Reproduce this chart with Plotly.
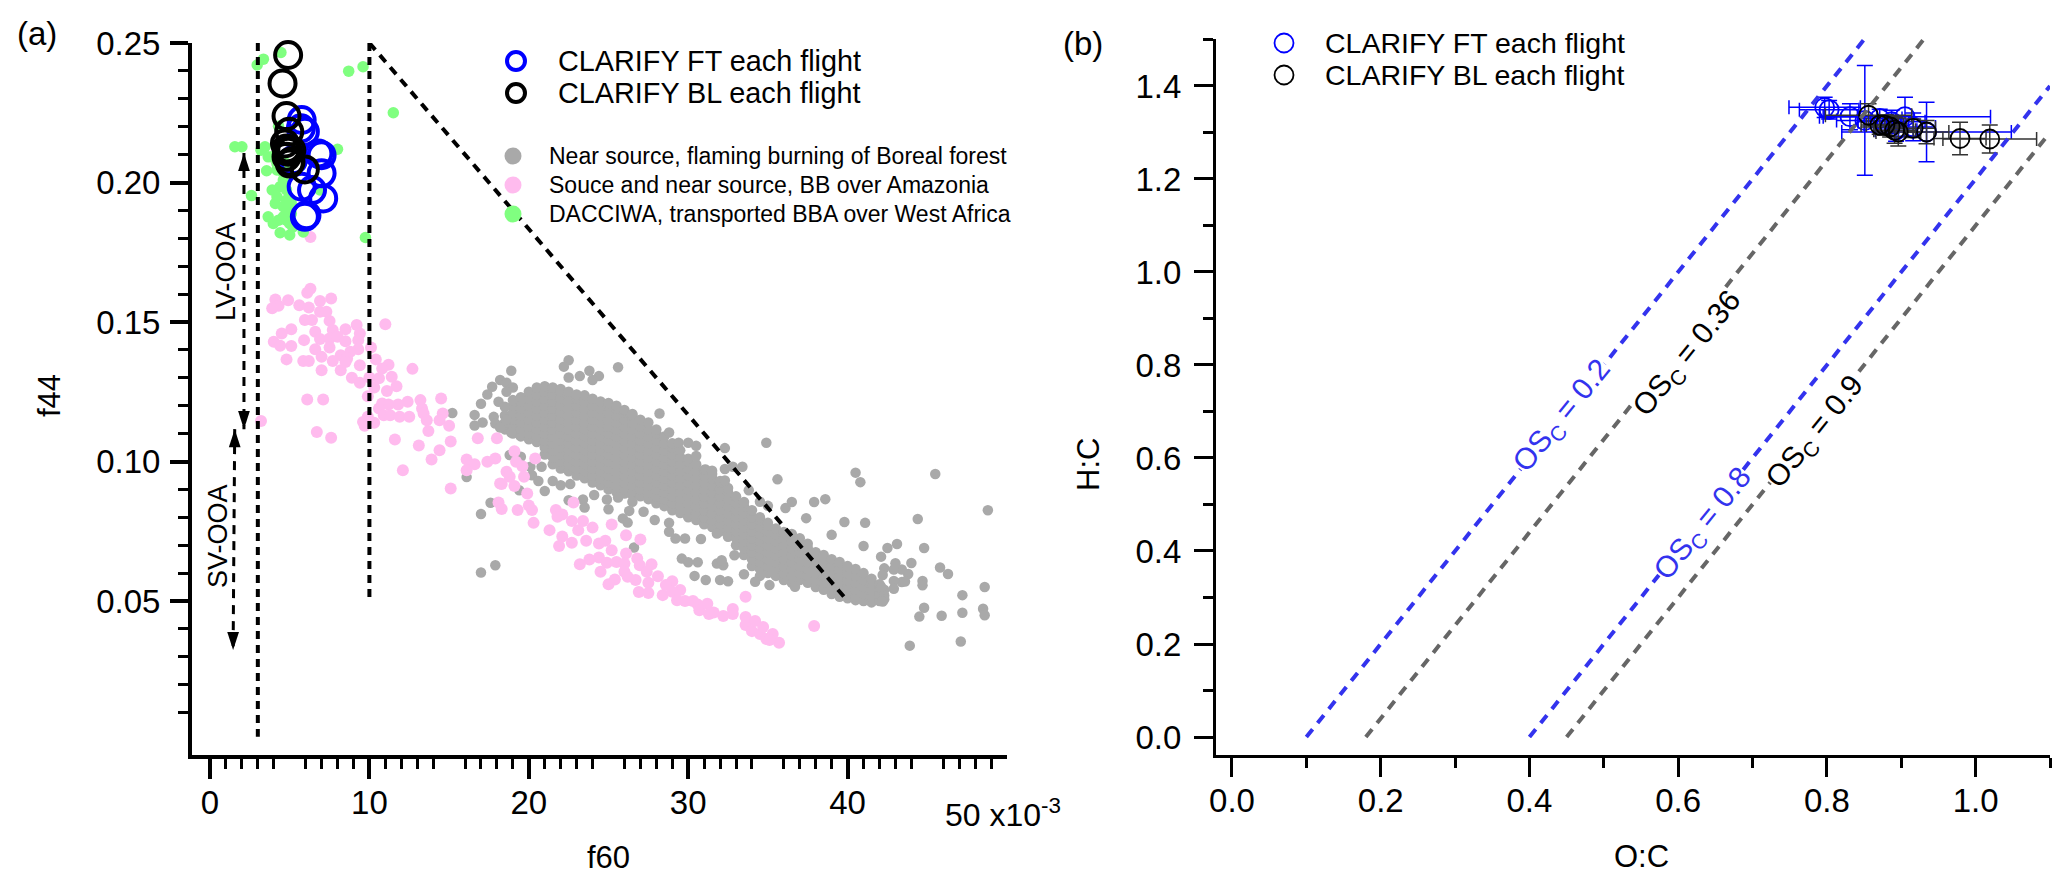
import plotly.graph_objects as go

W, H = 2067, 886
def fx(p): return p / W
def fy(p): return 1 - p / H

# ---------- panel (a): values; f60 in 1e-3 units, f44 in 1e-3 units ----------
gray_core_columns = [
 (18.5,[111.5,114,116.5]),
 (19,[110,112.5,115,117.5,120,122]),
 (19.5,[109,111.5,114,116.5,119,121.5,123]),
 (20,[108,110,112.5,115,117.5,120,122.5,125]),
 (20.5,[107,109,111.5,114,116.5,119,121.5,124,126.5]),
 (21,[102.5,105,107.5,110,112.5,115,117.5,120,122.5,125,127]),
 (21.5,[99,101.5,104,106.5,109,111.5,114,116.5,119,121.5,124,126.5]),
 (22,[97.5,100,102.5,105,107.5,110,112.5,115,117.5,120,122.5,125,126]),
 (22.5,[96.5,99,101.5,104,106.5,109,111.5,114,116.5,119,121.5,124,125]),
 (23,[95,97.5,100,102.5,105,107.5,110,112.5,115,117.5,120,122.5,124]),
 (23.5,[94,96.5,99,101.5,104,106.5,109,111.5,114,116.5,119,121.5,123.7]),
 (24,[92.5,95,97.5,100,102.5,105,107.5,110,112.5,115,117.5,120,122.5]),
 (24.5,[91.5,94,96.5,99,101.5,104,106.5,109,111.5,114,116.5,119,121.5]),
 (25,[90,92.5,95,97.5,100,102.5,105,107.5,110,112.5,115,117.5,120,121]),
 (25.5,[89,91.5,94,96.5,99,101.5,104,106.5,109,111.5,114,116.5,119,120]),
 (26,[88.5,90,92.5,95,97.5,100,102.5,105,107.5,110,112.5,115,117.5,118.5]),
 (26.5,[88,89,91.5,94,96.5,99,101.5,104,106.5,109,111.5,114,116.5,117]),
 (27,[87.5,90,92.5,95,97.5,100,102.5,105,107.5,110,112.5,115]),
 (27.5,[86.5,89,91.5,94,96.5,99,101.5,104,106.5,109,111.5,114]),
 (28,[85,87.5,90,92.5,95,97.5,100,102.5,105,107.5,110,111.5]),
 (28.5,[84,86.5,89,91.5,94,96.5,99,101.5,104,106.5,109]),
 (29,[82.5,85,87.5,90,92.5,95,97.5,100,102.5,105,106.5]),
 (29.5,[81.5,84,86.5,89,91.5,94,96.5,99,101.5,104]),
 (30,[80,82.5,85,87.5,90,92.5,95,97.5,100,101]),
 (30.5,[79,81.5,84,86.5,89,91.5,94,96.5,99]),
 (31,[77.5,80,82.5,85,87.5,90,92.5,95,97]),
 (31.5,[76.5,79,81.5,84,86.5,89,91.5,94,95.5]),
 (32,[75,77.5,80,82.5,85,87.5,90,92.5,93]),
 (32.5,[73,74,76.5,79,81.5,84,86.5,89,90.5]),
 (33,[70,72.5,75,77.5,80,82.5,85,87.5]),
 (33.5,[66.5,69,71.5,74,76.5,79,81.5,84,85.5]),
 (34,[62.5,65,67.5,70,72.5,75,77.5,80,82.5]),
 (34.5,[59,61.5,64,66.5,69,71.5,74,76.5,79,80]),
 (35,[60,62.5,65,67.5,70,72.5,75,77,78]),
 (35.5,[59,61.5,64,66.5,69,71.5,74,76]),
 (36,[57.5,60,62.5,65,67.5,70,72.5,74.7]),
 (36.5,[56.5,59,61.5,64,66.5,69,71.5,74]),
 (37,[57.5,60,62.5,65,67.5,70,72.5]),
 (37.5,[56.5,59,61.5,64,66.5,69,70.5]),
 (38,[55,57.5,60,62.5,65,67.5]),
 (38.5,[54,56.5,59,61.5,64,66.5]),
 (39,[52.5,55,57.5,60,62.5,65]),
 (39.5,[51.5,54,56.5,59,61.5,64]),
 (40,[51,52.5,55,57.5,60,62.5]),
 (40.5,[50.3,51.5,54,56.5,59,61.5]),
 (41,[50,52.5,55,57.5,60]),
 (41.5,[49.5,51.5,54,56.5,58]),
 (42,[50,52.5,55,56]),
 (42.3,[52,54]),
]
gray_outliers = [
 (22.5,136.3),(22.2,134),(25.6,133.8),(18.9,132.5),(23.8,132.5),(24.4,130.6),(24.0,129.2),(23.2,130.6),
 (22.5,130.1),(18.2,129.2),(18.6,128.2),(17.7,126.8),(19.0,126.5),(18.6,125),(17.4,124),(18.1,121.4),
 (17.0,120.7),(18.5,119.6),(15.2,117.4),(16.6,116.7),(17.8,116),(17.1,114),(16.6,112.9),(17.9,113.6),
 (18.2,112.2),(18.6,115),(18.9,110.4),(28.2,117.2),(28.8,110.4),(29.4,106.7),(30,106.7),(30.5,105.6),
 (30.5,102),(32.3,104.8),(34.9,106.7),(31.1,97.1),(31.5,96.7),(33.4,98.1),(32.8,98.1),(32.3,97.3),
 (35.6,93.6),(32.3,93.2),(33.8,89.7),(36.1,83.3),(35,84.1),(34.5,85.6),(18.8,102.3),(19.5,101.7),
 (20.1,98.1),(20.8,98.1),(20.2,95.1),(20.6,93),(21.5,93),(22,91.5),(22.6,91.9),(19.4,89.7),(21,89.4),
 (22.5,86.1),(23.4,86.4),(23.5,83.5),(24.1,88),(24.9,86.4),(25.6,87.1),(25,82.9),(26.5,85.6),(26.3,82.3),
 (25.9,79.6),(26.2,78.1),(27.2,82),(27.9,79),(28.8,78),(28.8,74.8),(29.2,72.4),(29.8,72.4),(30.8,72.2),
 (31.8,74.2),(32.9,66.4),(26.6,69.2),(17.6,85.2),(17,81.2),(16.1,94.4),(29.6,65.2),(30,63.9),(30.6,63.9),
 (31.8,63.4),(32.2,62.8),(32.1,64.6),(30.4,59),(31.1,57.5),(32,57.5),(32.5,57.1),(33.5,59.6),(34.2,56.9),
 (35.1,55.7),(36.7,55.1),(17.9,62.8),(17,60.2),
 (48.8,82.5),(46.3,59.7),(48.6,55),(47.2,52.1),(44.8,47.6),(48.5,47.2),(48.6,44.9),(47.2,45.8),(45.9,44.7),
 (44.5,44.4),(47.1,35.5),(43.9,34),(44.7,57.2),(44.7,55.6),(43.8,59.7),(43.4,61.3),(43,63.5),(42.3,61.7),
 (42.9,61.3),(43.4,56.8),(42.9,57.2),(42.9,54.4),(42.1,65.9),(42.1,55.1),(42.3,50.6),(42.2,59.3),(42.2,49.8),
 (45.5,95.5),(40.5,96),(40.8,92.6),(38.6,86.5),(41.1,78),(44.4,79.4),(45.8,62),(44,63.6),(43.6,57),
 (37.4,79.7),(36.5,85.5),(37.9,85.5),(39.8,78.3),(39,73.7),(41,69.7),(42.5,69),(43.1,70.4),(44.8,69),
]
pink_points = [
 (6.3,161.9),(6.1,160.5),(4.1,158.1),(4.9,157.8),(7.6,158.4),(6.9,157.5),(5.6,156),(6.2,155.2),(4.3,155.8),
 (3.9,154.9),(6.9,153.7),(7.3,153.7),(5.95,150.7),(6.4,150.7),(7.5,150.4),(9.2,148.9),(11,149.2),(5.1,147.4),
 (8.5,147.4),(4.5,145.9),(6.6,146.5),(7.7,147.1),(9.4,145.9),(9.3,143.5),(4,142.9),(5.9,143.5),(6.9,143.9),
 (7.5,144.1),(8,144.7),(8.5,143.1),(4.4,141.5),(5.1,141.4),(6.6,140.2),(7.5,140.9),(9.3,140.2),(10.1,140.9),
 (8.8,139.3),(8.2,138.1),(7,137.5),(4.8,136.6),(5.85,136),(6.2,136),(7.7,136),(8.6,136.9),(10.4,136.6),
 (9.4,134.5),(11.2,134.7),(10.8,133.3),(12.7,133.2),(7,132.7),(8.2,132.7),(8.5,135.7),(11.4,130.4),(8.9,130),
 (10,130.1),(10.6,129.8),(9.4,128.2),(10.3,126.5),(11.7,127),(11.1,125.3),(9.9,123.4),(6.1,122.2),(7.1,122.2),
 (14.5,122.6),(13.2,122),(12.4,121.4),(11.8,120.4),(10.8,120.8),(11.2,120.4),(13.3,119),(10.6,119),(10.9,116.6),
 (11.3,116.6),(11.9,116),(12.5,116),(9.9,116),(14.6,117.2),(13.4,117.2),(13.6,114.8),(14.4,114.8),(9.6,114.2),
 (10.3,113.9),(3.2,114.5),(9.7,112.8),(15,112.8),(13.7,110.9),(6.7,110.6),(7.6,108.5),(11.6,107.9),(15.1,107.2),
 (13.1,105.7),(16.8,108.3),(18,108.3),(14.4,104),(13.9,100.7),(12.1,96.9),(16.1,100.7),(16.6,99),(16.1,96.9),
 (17.4,99.9),(17.9,101.1),(15.1,90.3),(18.2,92.1),(6.3,180.5),
 (19.1,103.7),(20.4,101.1),(19.2,99.9),(19.6,98.3),(18.6,96.3),(18.8,94.5),(19.7,94.5),(18.3,91.9),(19.1,91.2),
 (19.9,88.5),(22.8,85.3),(18.1,85.3),(18.3,83),(20,84.2),(20.2,82.6),(19.3,82.6),(21.7,82.6),(22.1,81),(21.8,80.2),
 (20.3,78),(22.7,78.7),(23.4,78.7),(23.1,75.4),(24,76.3),(25.2,77.4),(21.3,75.4),(22.1,73.1),(26.1,73.6),(27,72),
 (23.6,71.6),(22.7,70.9),(21.9,69.7),(24.4,70.6),(24.8,71.6),(25.2,68.2),(26.1,67),(24.4,65.6),(23.8,64.9),
 (23.2,63.2),(24.9,63.7),(25.5,64),(26,63.4),(26.8,65.2),(27.7,63.2),(26.96,62.8),(26,60.5),(24.5,60.5),(27.4,60.5),
 (26.2,58.7),(26.7,57.5),(25.4,57.7),(25,56),(28.1,58.9),(27.5,56.5),(29,57.1),(28.6,55.7),(29.5,53.9),(26.9,53.2),
 (27.5,52.9),(28.4,52.1),(29,53.3),(29.3,50.3),(29.8,50),(33.6,51.5),(30.6,48.7),(32.8,47.1),(31.6,45.9),(30.7,46.7),
 (31.2,49),(32.8,45.3),(33.6,41.4),(34,39.2),(34.5,38.2),(34.9,36.4),(35.3,38.2),(35.7,35),(33.6,44.3),(34.2,42.8),
 (34.7,40.7),(35.1,36),(37.9,41),(31.3,45.3),(32.2,44.6),(30.3,50),
]
green_points = [
 (4.45,246.6),(3.35,244.2),(2.96,242.1),(8.7,239.9),(9.6,241.5),(11.5,225),(4.3,220.2),(1.56,212.8),(2,212.8),
 (8,211.9),(3.45,212.8),(3.2,211.6),(3.9,209.2),(3.55,204.2),(4.2,204.5),(3.9,197.3),(4.4,198.5),(2.6,195.3),
 (4.2,194.9),(4.8,197.3),(4.1,192.5),(4.6,191.3),(5.1,188.9),(3.65,187.7),(4.3,186.5),(4.8,186.5),(3.97,185.3),
 (5.2,184.1),(4.4,182),(5,181.2),(5.85,182.3),(9.75,180.3),(6.9,197.3),(4.8,193.7),(5.1,192.5),(4.6,187.7),
 (5,185.3),(3.65,209.2),(4.2,206.8),(4.6,203.3),(4.8,206.8),(4.6,200.9),(4.8,190.1),
]
ft_f60 = [5.75,5.95,6.8,7,7,7.1,6.4,5.75,6.05,5.95,5,5.2,5.7]
ft_f44 = [222.4,218.2,210.4,209.8,203.3,194.3,197.3,198.5,188.3,187.7,211.6,208,219.4]
bl_f60 = [4.9,4.55,4.8,4.97,4.7,4.8,4.9,5.1,4.8,5.05,5.95,5]
bl_f44 = [245.7,235.5,223.8,218.2,214,212.2,211,211.6,209.2,207.4,204.7,206.8]

# ---------- panel (b) values ----------
ft_oc  = [0.797,0.803,0.831,0.851,0.871,0.887,0.905,0.916,0.934,0.880,0.893]
ft_hc  = [1.354,1.349,1.334,1.326,1.330,1.323,1.334,1.312,1.301,1.318,1.305]
ft_oce = [0.048,0.040,0.036,0.038,0.030,0.045,0.115,0.030,0.114,0.030,0.028]
ft_hce = [0.022,0.020,0.028,0.118,0.020,0.025,0.042,0.030,0.064,0.020,0.024]
bl_oc  = [0.856,0.871,0.878,0.885,0.891,0.896,0.916,0.934,0.979,1.019]
bl_hc  = [1.337,1.316,1.316,1.312,1.305,1.301,1.309,1.301,1.287,1.286]
bl_oce = [0.058,0.025,0.025,0.022,0.028,0.030,0.030,0.030,0.035,0.063]
bl_hce = [0.025,0.020,0.022,0.022,0.028,0.030,0.020,0.025,0.035,0.030]
os_blue = [0.2, 0.8]
os_gray = [0.36, 0.9]

gray_x = [c[0] for c in gray_core_columns for _ in c[1]] + [p[0] for p in gray_outliers]
gray_y = [v/1000 for c in gray_core_columns for v in c[1]] + [p[1]/1000 for p in gray_outliers]

BLUE, PINK, GREEN, GRAY = "#0000FF", "#FFBBEE", "#80FF80", "#A9A9A9"
FONT = "Liberation Sans, Arial, sans-serif"
fig = go.Figure()

def dots(x, y, color, size, name):
    fig.add_trace(go.Scatter(x=x, y=y, mode="markers", name=name, showlegend=False, cliponaxis=False,
                             marker=dict(color=color, size=size, line=dict(width=0)), xaxis="x", yaxis="y"))

dots(gray_x, gray_y, GRAY, 10.5, "Near source, flaming burning of Boreal forest")
dots([p[0] for p in pink_points], [p[1]/1000 for p in pink_points], PINK, 12, "Souce and near source, BB over Amazonia")
dots([p[0] for p in green_points], [p[1]/1000 for p in green_points], GREEN, 11.5, "DACCIWA, transported BBA over West Africa")

for xs, ys, col, nm in [(ft_f60, ft_f44, BLUE, "CLARIFY FT each flight"), (bl_f60, bl_f44, "#000000", "CLARIFY BL each flight")]:
    fig.add_trace(go.Scatter(x=xs, y=[v/1000 for v in ys], mode="markers", name=nm, showlegend=False, cliponaxis=False,
                             marker=dict(color="rgba(0,0,0,0)", size=26, line=dict(color=col, width=4)), xaxis="x", yaxis="y"))

def dline(x, y, xa="x", ya="y", color="#000", width=4, dash="8px,6px"):
    fig.add_trace(go.Scatter(x=x, y=y, mode="lines", showlegend=False, hoverinfo="skip", cliponaxis=False,
                             line=dict(color=color, width=width, dash=dash), xaxis=xa, yaxis=ya))

dline([3, 3], [0.25, 0.0013])
dline([10, 10], [0.25, 0.05])
dline([10, 40], [0.25, 0.05], dash="9px,7px")

# double arrows
def arrow(x, y):
    dline(x, y, width=3, dash="9px,7px")
    fig.add_trace(go.Scatter(x=x, y=y, mode="markers", showlegend=False, hoverinfo="skip",
                             marker=dict(symbol="arrow", size=19, angle=[0 if y[0] > y[1] else 180, 180 if y[0] > y[1] else 0],
                                         color="#000", line=dict(width=0)), xaxis="x", yaxis="y"))
arrow([2.13, 2.13], [0.2106, 0.1116])
arrow([1.55, 1.45], [0.1116, 0.0324])

# panel (b)
for xs, ys, ex, ey, col, nm in [(ft_oc, ft_hc, ft_oce, ft_hce, BLUE, "CLARIFY FT each flight"),
                                (bl_oc, bl_hc, bl_oce, bl_hce, "#000000", "CLARIFY BL each flight")]:
    fig.add_trace(go.Scatter(x=xs, y=ys, mode="markers", name=nm, showlegend=False, cliponaxis=False,
                             error_x=dict(type="data", array=ex, color=col if col == BLUE else "#333", thickness=1.5, width=7),
                             error_y=dict(type="data", array=ey, color=col if col == BLUE else "#333", thickness=1.5, width=8),
                             marker=dict(color="rgba(0,0,0,0)", size=19, line=dict(color=col, width=1.8)),
                             xaxis="x2", yaxis="y2"))
for vals, col in [(os_blue, "#3333EE"), (os_gray, "#666666")]:
    for os_c in vals:
        x0 = os_c / 2
        x1 = min((1.5 + os_c) / 2, 1.1)
        dline([x0, x1], [2*x0 - os_c, 2*x1 - os_c], "x2", "y2", col, 4, "10px,8px")

AX = dict(showgrid=False, zeroline=False, showline=True, linecolor="#000", ticks="outside", tickcolor="#000",
          tickfont=dict(family=FONT, size=33, color="#000"))
f60_ticks = [0, 10, 20, 30, 40]
f60_labels = ["0", "10", "20", "30", "40"]
f44_ticks = [0.05, 0.10, 0.15, 0.20, 0.25]
f44_labels = ["0.05", "0.10", "0.15", "0.20", "0.25"]
oc_ticks = [0, 0.2, 0.4, 0.6, 0.8, 1.0]
oc_labels = ["0.0", "0.2", "0.4", "0.6", "0.8", "1.0"]
hc_ticks = [0, 0.2, 0.4, 0.6, 0.8, 1.0, 1.2, 1.4]
hc_labels = ["0.0", "0.2", "0.4", "0.6", "0.8", "1.0", "1.2", "1.4"]

OVER = dict(overlaying="x", range=[-1.13, 50], anchor="y", side="bottom", showgrid=False, zeroline=False, showline=False,
            ticks="outside", tickcolor="#000", showticklabels=False)
fig.update_layout(
    width=W, height=H, margin=dict(l=0, r=0, t=0, b=0, autoexpand=False), paper_bgcolor="#fff", plot_bgcolor="rgba(0,0,0,0)",
    font=dict(family=FONT, color="#000"), showlegend=False,
    xaxis=dict(AX, domain=[fx(192), fx(1007)], range=[-1.13, 50], anchor="y", linewidth=4, tickwidth=3.5, ticklen=20,
               tickvals=f60_ticks, ticktext=f60_labels, ticklabelstandoff=-5,
               minor=dict(tickvals=[i for i in range(0, 50) if i % 5], ticklen=10, tickwidth=3, ticks="outside", tickcolor="#000")),
    xaxis3=dict(OVER, ticklen=15, tickwidth=3, tickvals=[5, 15, 25, 35, 45]),
    xaxis4=dict(OVER, ticklen=20, tickwidth=3.5, tickvals=[50]),
    yaxis=dict(AX, domain=[fy(755), fy(43)], range=[-0.0052, 0.25], anchor="x", linewidth=4, tickwidth=3.5, ticklen=18,
               tickvals=f44_ticks, ticktext=f44_labels, ticklabelstandoff=3,
               minor=dict(tickvals=[i/100 for i in range(1, 25) if i % 5], ticklen=10, tickwidth=3, ticks="outside", tickcolor="#000")),
    xaxis2=dict(AX, domain=[fx(1216), fx(2050)], range=[-0.0215, 1.1], anchor="y2", linewidth=3, tickwidth=3, ticklen=19,
                tickvals=oc_ticks, ticktext=oc_labels, ticklabelstandoff=-5,
                minor=dict(tickvals=[0.1, 0.3, 0.5, 0.7, 0.9, 1.1], ticklen=10, tickwidth=3, ticks="outside", tickcolor="#000")),
    yaxis2=dict(AX, domain=[fy(755), fy(39)], range=[-0.0387, 1.501], anchor="x2", linewidth=3, tickwidth=3, ticklen=19,
                tickvals=hc_ticks, ticktext=hc_labels, ticklabelstandoff=6,
                minor=dict(tickvals=[0.1, 0.3, 0.5, 0.7, 0.9, 1.1, 1.3, 1.5], ticklen=10, tickwidth=3, ticks="outside", tickcolor="#000")),
)

def text(px, py, s, size, angle=0, color="#000", anchor="center", bg=None):
    fig.add_annotation(x=fx(px), y=fy(py), xref="paper", yref="paper", text=s, showarrow=False, textangle=angle,
                       xanchor=anchor, yanchor="middle", font=dict(family=FONT, size=size, color=color),
                       bgcolor=bg, borderpad=0)

def key(px, py, d, fill, edge, lw):
    fig.add_shape(type="circle", xref="paper", yref="paper", xsizemode="pixel", ysizemode="pixel",
                  xanchor=fx(px), yanchor=fy(py), x0=-d/2, x1=d/2, y0=-d/2, y1=d/2,
                  fillcolor=fill, line=dict(color=edge, width=lw))

text(37, 33, "(a)", 33)
text(1083, 43, "(b)", 33)
text(49, 396, "f44", 31, -90)
text(608, 857, "f60", 31)
text(1003, 813, "50 x10<sup>-3</sup>", 32)
text(1089, 465, "H:C", 31, -90)
text(1641, 856, "O:C", 31)
text(226, 272, "LV-OOA", 27, -90)
text(218, 536, "SV-OOA", 27, -90)

key(516, 61, 18, "rgba(0,0,0,0)", BLUE, 4)
key(516, 93, 18, "rgba(0,0,0,0)", "#000", 4)
text(557, 61, "CLARIFY FT each flight", 28.8, anchor="left")
text(557, 93, "CLARIFY BL each flight", 28.8, anchor="left")
key(513, 156, 17, GRAY, GRAY, 0)
key(513, 185, 17, PINK, PINK, 0)
key(513, 214, 17, GREEN, GREEN, 0)
text(548, 156, "Near source, flaming burning of Boreal forest", 23, anchor="left")
text(548, 185, "Souce and near source, BB over Amazonia", 23, anchor="left")
text(548, 214, "DACCIWA, transported BBA over West Africa", 23, anchor="left")

key(1284, 43, 19, "rgba(0,0,0,0)", BLUE, 1.8)
key(1284, 75, 19, "rgba(0,0,0,0)", "#000", 1.8)
text(1324, 43, "CLARIFY FT each flight", 28.5, anchor="left")
text(1324, 75, "CLARIFY BL each flight", 28.5, anchor="left")

text(1562, 416, "OS<sub>C</sub> = 0.2", 30, -51, "#3333EE", bg="#fff")
text(1687, 354, "OS<sub>C</sub> = 0.36", 30, -51, bg="#fff")
text(1703, 524, "OS<sub>C</sub> = 0.8", 30, -51, "#3333EE", bg="#fff")
text(1815, 432, "OS<sub>C</sub> = 0.9", 30, -51, bg="#fff")

fig.write_html("out.html", config={"displayModeBar": False},
               post_script="document.body.style.margin='0';document.documentElement.style.overflow='hidden';")
